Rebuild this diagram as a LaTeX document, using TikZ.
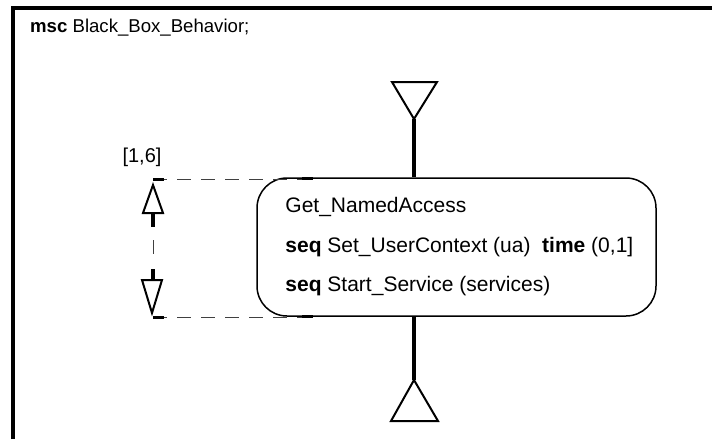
\documentclass[tikz,border=0pt]{standalone}
\usepackage{fontspec}
\setmainfont{Liberation Sans}
\usetikzlibrary{positioning}

\tikzset{
  lifeline/.style={line width=4pt},
  endtri/.style={line width=2pt, line join=miter},
  guide/.style={line width=0.8pt, black!75, dash pattern=on 14pt off 10pt},
  marktick/.style={line width=3pt},
  inlinebox/.style={draw, line width=1.5pt, rounded corners=30pt,
    minimum width=399pt, minimum height=138pt},
  inlinetext/.style={align=left, inner sep=0pt, font=\fontsize{21}{39.5}\selectfont},
}

\begin{document}
\begin{tikzpicture}[x=1pt, y=-1pt, font=\fontsize{18.6}{22}\selectfont]
\useasboundingbox (0,0) rectangle (712,439);

% frame of the msc
\draw[line width=4pt] (13,439) -- (13,8) -- (712,8);
\node[anchor=base west, inner sep=0pt] (title) at (30,32) {\textbf{msc} Black\_Box\_Behavior;};

% instance head and end
\coordinate (head) at (414,119);
\coordinate (foot) at (414,380);
\draw[endtri] (392,82) -- (437,82) -- (head) -- cycle;
\draw[endtri] (391,421) -- (438,421) -- (foot) -- cycle;

% inline expression
\node[inlinebox] (inl) at (456.5,247) {};
\node[inlinetext, anchor=west] (inltext) at ([xshift=29pt]inl.west) {Get\_NamedAccess\\
  \textbf{seq} Set\_UserContext (ua)\ \ \textbf{time} (0,1]\\
  \textbf{seq} Start\_Service (services)};
\draw[lifeline] (head) -- (head |- inl.north);
\draw[lifeline] (inl.south -| foot) -- (foot);

% time interval
\coordinate (tTop) at (302,179);
\coordinate (tBot) at (302,317);
\coordinate (mTop) at (153,179);
\coordinate (mBot) at (153,317);
\draw[marktick] (302,178) -- (313,178);
\draw[marktick] (302,316) -- (313,316);
\draw[guide] (mTop) -- (tTop);
\draw[guide] (mBot) -- (tBot);
\draw[marktick] (mTop) -- ++(11,0);
\draw[marktick] (mBot) -- ++(11,0);

\draw[endtri] (143,213) -- (163,213) -- (153,185) -- cycle;
\draw[lifeline] (153,213) -- (153,227);
\draw[guide] (153,240) -- (153,255);
\draw[lifeline] (153,269) -- (153,280);
\draw[endtri] (142,280) -- (162,280) -- (152,313) -- cycle;

\node[font=\fontsize{20}{24}\selectfont] (bounds) at (142,157) {[1,6]};
\end{tikzpicture}
\end{document}
